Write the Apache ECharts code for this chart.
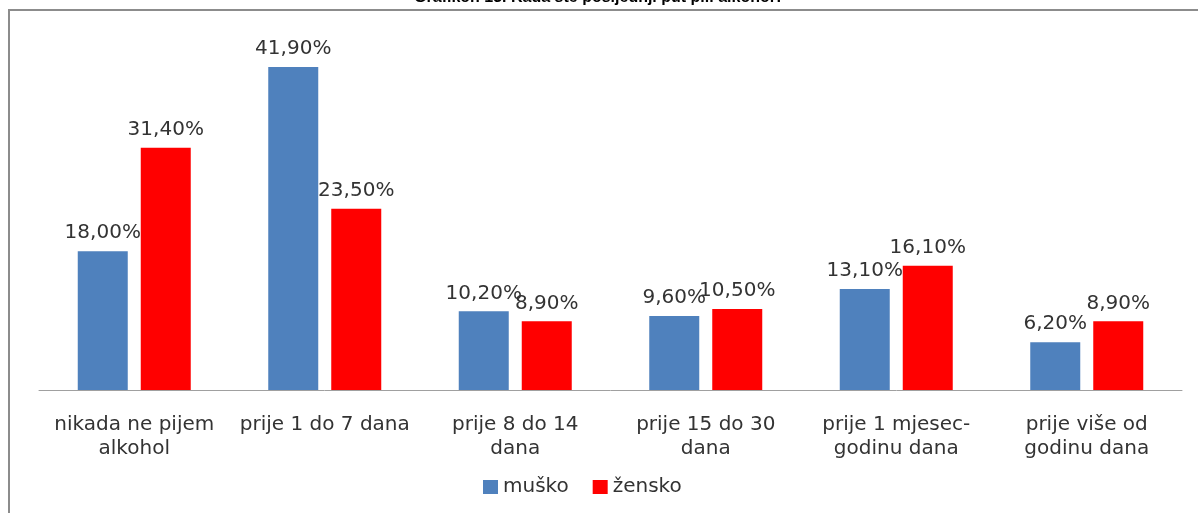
<!DOCTYPE html>
<html>
<head>
<meta charset="utf-8">
<script src="https://cdn.jsdelivr.net/npm/echarts@6/dist/echarts.min.js"></script>
<style>
    html, body { margin: 0; padding: 0; background: #fff; }
    #frame {
        position: absolute; left: 8px; top: 9px; width: 1200px; height: 520px;
        border: 2px solid #8c8c8c; box-sizing: border-box;
    }
    #main { position: absolute; left: 0; top: 0; width: 1198px; height: 513px; }
</style>
</head>
<body>
<div id="frame"></div>
<div id="main"></div>
<script>
    // kategorije i vrijednosti (%)
    var categories = [
        'nikada ne pijem\nalkohol',
        'prije 1 do 7 dana',
        'prije 8 do 14\ndana',
        'prije 15 do 30\ndana',
        'prije 1 mjesec-\ngodinu dana',
        'prije više od\ngodinu dana'
    ];
    var musko = [18.0, 41.9, 10.2, 9.6, 13.1, 6.2];
    var zensko = [31.4, 23.5, 8.9, 10.5, 16.1, 8.9];

    var fontFam = '"DejaVu Sans", sans-serif';

    var labelOpt = {
        show: true,
        position: 'top',
        distance: 8,
        color: '#333',
        fontSize: 20,
        fontFamily: fontFam,
        formatter: function (p) {
            return p.value.toFixed(2).replace('.', ',') + '%';
        }
    };

    var myChart = echarts.init(document.getElementById('main'));
    myChart.setOption({
        animation: false,
        title: {
            text: 'Grafikon 13. Kada ste posljednji put pili alkohol?',
            left: 'center',
            top: -15,
            textStyle: {
                fontSize: 16,
                fontWeight: 'bold',
                color: '#000',
                fontFamily: '"Liberation Sans", sans-serif'
            }
        },
        legend: {
            bottom: 11,
            left: 478,
            itemWidth: 15,
            itemHeight: 14,
            itemGap: 24,
            icon: 'rect',
            textStyle: {
                fontSize: 20,
                color: '#333',
                fontFamily: fontFam
            },
            data: ['muško', 'žensko']
        },
        grid: {
            left: 39,
            right: 16,
            top: 43,
            bottom: 123
        },
        xAxis: {
            type: 'category',
            data: categories,
            axisLine: { lineStyle: { color: '#a0a0a0', width: 1 } },
            axisTick: { show: false },
            axisLabel: {
                interval: 0,
                margin: 23,
                color: '#333',
                fontSize: 20,
                lineHeight: 24,
                fontFamily: fontFam
            }
        },
        yAxis: {
            type: 'value',
            min: 0,
            max: 45,
            show: false
        },
        series: [
            {
                name: 'muško',
                type: 'bar',
                data: musko,
                barWidth: 50,
                barGap: '26%',
                itemStyle: { color: '#4f81bd' },
                label: labelOpt
            },
            {
                name: 'žensko',
                type: 'bar',
                data: zensko,
                barWidth: 50,
                itemStyle: { color: '#ff0000' },
                label: labelOpt
            }
        ]
    });
</script>
</body>
</html>
